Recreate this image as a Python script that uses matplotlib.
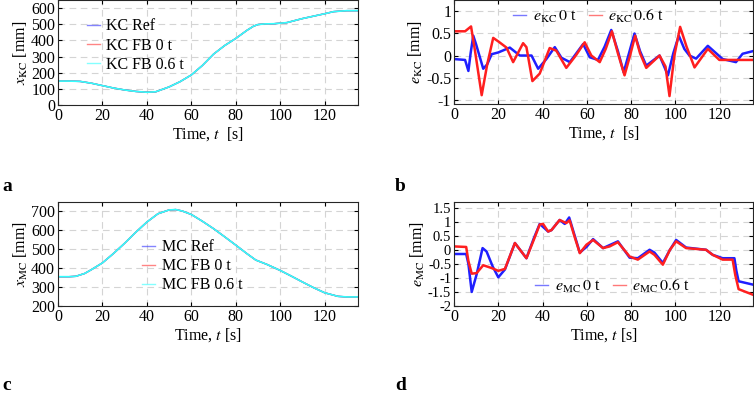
import numpy as np
import matplotlib.pyplot as plt

plt.rcParams['font.family'] = ['Liberation Serif', 'DejaVu Serif']
plt.rcParams['mathtext.fontset'] = 'stix'
plt.rcParams['font.size'] = 11.5

# panel a: KC position [mm]
t_kc = [0, 5, 10, 15, 20, 25, 30, 35, 40, 44, 50, 55, 60, 65, 70, 75, 80, 85, 88, 90, 93, 97,
        103, 110, 115, 120, 124, 130, 135]
x_kc = [148, 148, 146, 135, 120, 105, 93, 84, 79, 82, 112, 145, 186, 245, 315, 368, 412, 462, 488,
        498, 502, 503, 510, 535, 550, 565, 578, 584, 584]

# panel c: MC position [mm]
t_mc = [0, 5, 8, 12, 15, 20, 25, 30, 35, 40, 45, 50, 53, 56, 60, 65, 70, 75, 80, 85, 89, 94,
        100, 105, 110, 115, 120, 126, 130, 135]
x_mc = [355, 355, 357, 372, 392, 428, 478, 532, 590, 644, 688, 708, 710, 702, 684, 648, 609, 566,
        522, 477, 443, 420, 388, 358, 327, 297, 270, 251, 248, 248]

# panel b: KC error [mm]
t_ekc0 = [0, 5, 6.5, 7.5, 8.7, 10, 13.2, 15, 17, 20, 25.2, 29.7, 35, 38, 41.7, 45.5, 48.5, 52.3,
          58.3, 61.3, 65, 68, 71, 74, 76.6, 79, 81.5, 84, 86.8, 92.8, 96.6, 99, 101.5, 104,
          106.3, 109.3, 114.6, 121.3, 127.3, 130.3, 135]
e_kc0 = [-0.08, -0.1, -0.35, 0.05, 0.45, 0.25, -0.3, -0.2, 0.03, 0.07, 0.18, 0.0, 0.0, -0.3, -0.08,
         0.19, -0.05, -0.15, 0.26, -0.04, -0.1, 0.2, 0.58, 0.1, -0.38, 0.05, 0.5, 0.1, -0.23, 0.0,
         -0.45, 0.05, 0.45, 0.15, 0.0, -0.07, 0.22, -0.08, -0.15, 0.04, 0.1]
t_ekc6 = [0, 5, 7.7, 9.5, 12.5, 15, 17.7, 20, 23.7, 26.7, 31.2, 32.7, 35.4, 38.7, 43.2, 46.2, 50.7,
          55, 59, 62, 65.8, 68.5, 71.3, 74, 77, 79.5, 81.8, 84, 86.8, 92.8, 95.5, 97.3, 99.5,
          102.1, 105, 108.6, 114.6, 119.8, 135]
e_kc6 = [0.55, 0.55, 0.66, 0.1, -0.9, -0.2, 0.4, 0.32, 0.18, -0.15, 0.28, 0.19, -0.58, -0.41, 0.17,
         0.11, -0.28, 0.0, 0.3, 0.0, -0.15, 0.15, 0.55, 0.05, -0.45, 0.0, 0.45, 0.05, -0.28, 0.0,
         -0.25, -0.92, 0.0, 0.65, 0.2, -0.27, 0.15, -0.1, -0.1]

# panel d: MC error [mm]
t_emc0 = [0, 5.5, 6.5, 8, 10.2, 12.9, 14.7, 17.5, 20, 23, 27.5, 32.7, 36, 38.7, 42.5, 44, 47.7, 50,
          52, 54.5, 56.8, 59.8, 62.8, 67.3, 74, 79.3, 83, 88.3, 90.5, 94.3, 97.5, 100.3, 104.8,
          113.8, 116.8, 121.3, 126.6, 127.5, 128.5, 135]
e_mc0 = [-0.15, -0.15, -0.5, -1.5, -0.88, 0.06, -0.06, -0.6, -0.98, -0.7, 0.24, -0.3, 0.4, 0.92,
         0.65, 0.7, 1.06, 0.92, 1.15, 0.5, -0.1, 0.1, 0.38, 0.06, 0.3, -0.28, -0.3, 0.0, -0.1,
         -0.47, 0.0, 0.35, 0.08, 0.0, -0.18, -0.3, -0.3, -0.75, -1.12, -1.24]
t_emc6 = [0, 5.5, 6.5, 8, 10.2, 13.2, 17, 20, 23, 27.5, 32.7, 36, 38.7, 40.2, 42.5, 44, 47.7, 50.7,
          52.2, 54.5, 56.8, 59.8, 62.8, 67.3, 70.3, 74, 79.3, 83, 88.3, 90.5, 94.3, 97.5, 100.3,
          104.8, 113.8, 116.8, 121.3, 125.8, 127, 128.5, 135]
e_mc6 = [0.12, 0.1, -0.4, -0.85, -0.83, -0.55, -0.65, -0.75, -0.68, 0.24, -0.3, 0.35, 0.9, 0.92,
         0.65, 0.7, 1.06, 0.95, 1.05, 0.45, -0.12, 0.18, 0.35, 0.06, 0.12, 0.27, -0.24, -0.35,
         -0.06, -0.18, -0.53, 0.0, 0.3, 0.06, 0.0, -0.18, -0.35, -0.35, -0.9, -1.4, -1.6]

fig = plt.figure(figsize=(7.54, 3.94), dpi=100)
W, H = 754, 394


def make_ax(x0, y0, x1, y1):
    ax = fig.add_axes([x0 / W, 1 - y1 / H, (x1 - x0) / W, (y1 - y0) / H])
    ax.grid(True, ls=(0, (6, 4)), color='#d4d4d4', lw=0.8)
    ax.set_axisbelow(True)
    ax.tick_params(direction='in', length=3, pad=2, top=True, right=True)
    for s in ax.spines.values():
        s.set_color('#262626')
        s.set_linewidth(0.8)
    ax.set_xlim(0, 135)
    ax.set_xticks(range(0, 121, 20))
    return ax


def thin_legend(leg):
    for h in leg.get_lines():
        h.set_linewidth(1)
        h.set_alpha(0.6)


# a
ax = make_ax(58, 0, 358, 105)
ax.plot(t_kc, x_kc, color='#3333ff', lw=1, label='KC Ref')
ax.plot(t_kc, x_kc, color='#ff3333', lw=1, label='KC FB 0 t')
ax.plot(t_kc, x_kc, color='#33ffff', lw=1.2, label='KC FB 0.6 t')
ax.set_ylim(0, 650)
ax.set_yticks(range(0, 601, 100))
ax.set_ylabel(r'$x_{\mathrm{KC}}$ [mm]', labelpad=1)
ax.set_xlabel(r'Time, $t$  [s]', labelpad=1)
thin_legend(ax.legend(loc='upper left', bbox_to_anchor=(0.07, 0.9), frameon=False, handlelength=0.8,
                      handletextpad=0.4, labelspacing=0.2, borderpad=0))

# b
ax = make_ax(454, 0, 753, 104)
ax.plot(t_ekc0, e_kc0, color='#1f1fff', lw=1.8, label=r'$e_{\mathrm{KC}}\,\mathit{0}$ t')
ax.plot(t_ekc6, e_kc6, color='#ff1f1f', lw=1.8, label=r'$e_{\mathrm{KC}}\,\mathit{0.6}$ t')
ax.set_ylim(-1.1, 1.26)
ax.set_yticks([-1, -0.5, 0, 0.5, 1])
ax.set_yticklabels(['-1', '-0.5', '0', '0.5', '1'])
ax.set_ylabel(r'$e_{\mathrm{KC}}$ [mm]', labelpad=1)
ax.set_xlabel(r'Time, $t$  [s]', labelpad=1)
thin_legend(ax.legend(loc='upper center', bbox_to_anchor=(0.45, 1.0), ncol=2, frameon=False,
                      handlelength=0.8, handletextpad=0.4, columnspacing=0.8, borderpad=0))

# c
ax = make_ax(58, 202, 358, 306)
ax.plot(t_mc, x_mc, color='#3333ff', lw=1, label='MC Ref')
ax.plot(t_mc, x_mc, color='#ff3333', lw=1, label='MC FB 0 t')
ax.plot(t_mc, x_mc, color='#33ffff', lw=1.2, label='MC FB 0.6 t')
ax.set_ylim(200, 750)
ax.set_yticks(range(200, 701, 100))
ax.set_ylabel(r'$x_{\mathrm{MC}}$ [mm]', labelpad=1)
ax.set_xlabel(r'Time, $t$ [s]', labelpad=1)
thin_legend(ax.legend(loc='upper left', bbox_to_anchor=(0.255, 0.72), frameon=False, handlelength=0.8,
                      handletextpad=0.4, labelspacing=0.2, borderpad=0))

# d
ax = make_ax(454, 202, 753, 306)
ax.plot(t_emc0, e_mc0, color='#1f1fff', lw=1.8, label=r'$e_{\mathrm{MC}}\,\mathit{0}$ t')
ax.plot(t_emc6, e_mc6, color='#ff1f1f', lw=1.8, label=r'$e_{\mathrm{MC}}\,\mathit{0.6}$ t')
ax.set_ylim(-2, 1.7)
ax.set_yticks([-2, -1.5, -1, -0.5, 0, 0.5, 1, 1.5])
ax.set_yticklabels(['-2', '-1.5', '-1', '-0.5', '0', '0.5', '1', '1.5'], fontsize=10.5)
ax.set_ylabel(r'$e_{\mathrm{MC}}$ [mm]', labelpad=1)
ax.set_xlabel(r'Time, $t$ [s]', labelpad=1)
thin_legend(ax.legend(loc='lower center', bbox_to_anchor=(0.53, 0.03), ncol=2, frameon=False,
                      handlelength=0.8, handletextpad=0.4, columnspacing=0.8, borderpad=0))

for s, (x, y) in zip('abcd', [(2, 191), (395, 191), (2, 390), (395, 390)]):
    fig.text(x / W, 1 - y / H, s, fontweight='bold', fontsize=14, ha='left', va='baseline')

fig.savefig('out.png', dpi=100)
